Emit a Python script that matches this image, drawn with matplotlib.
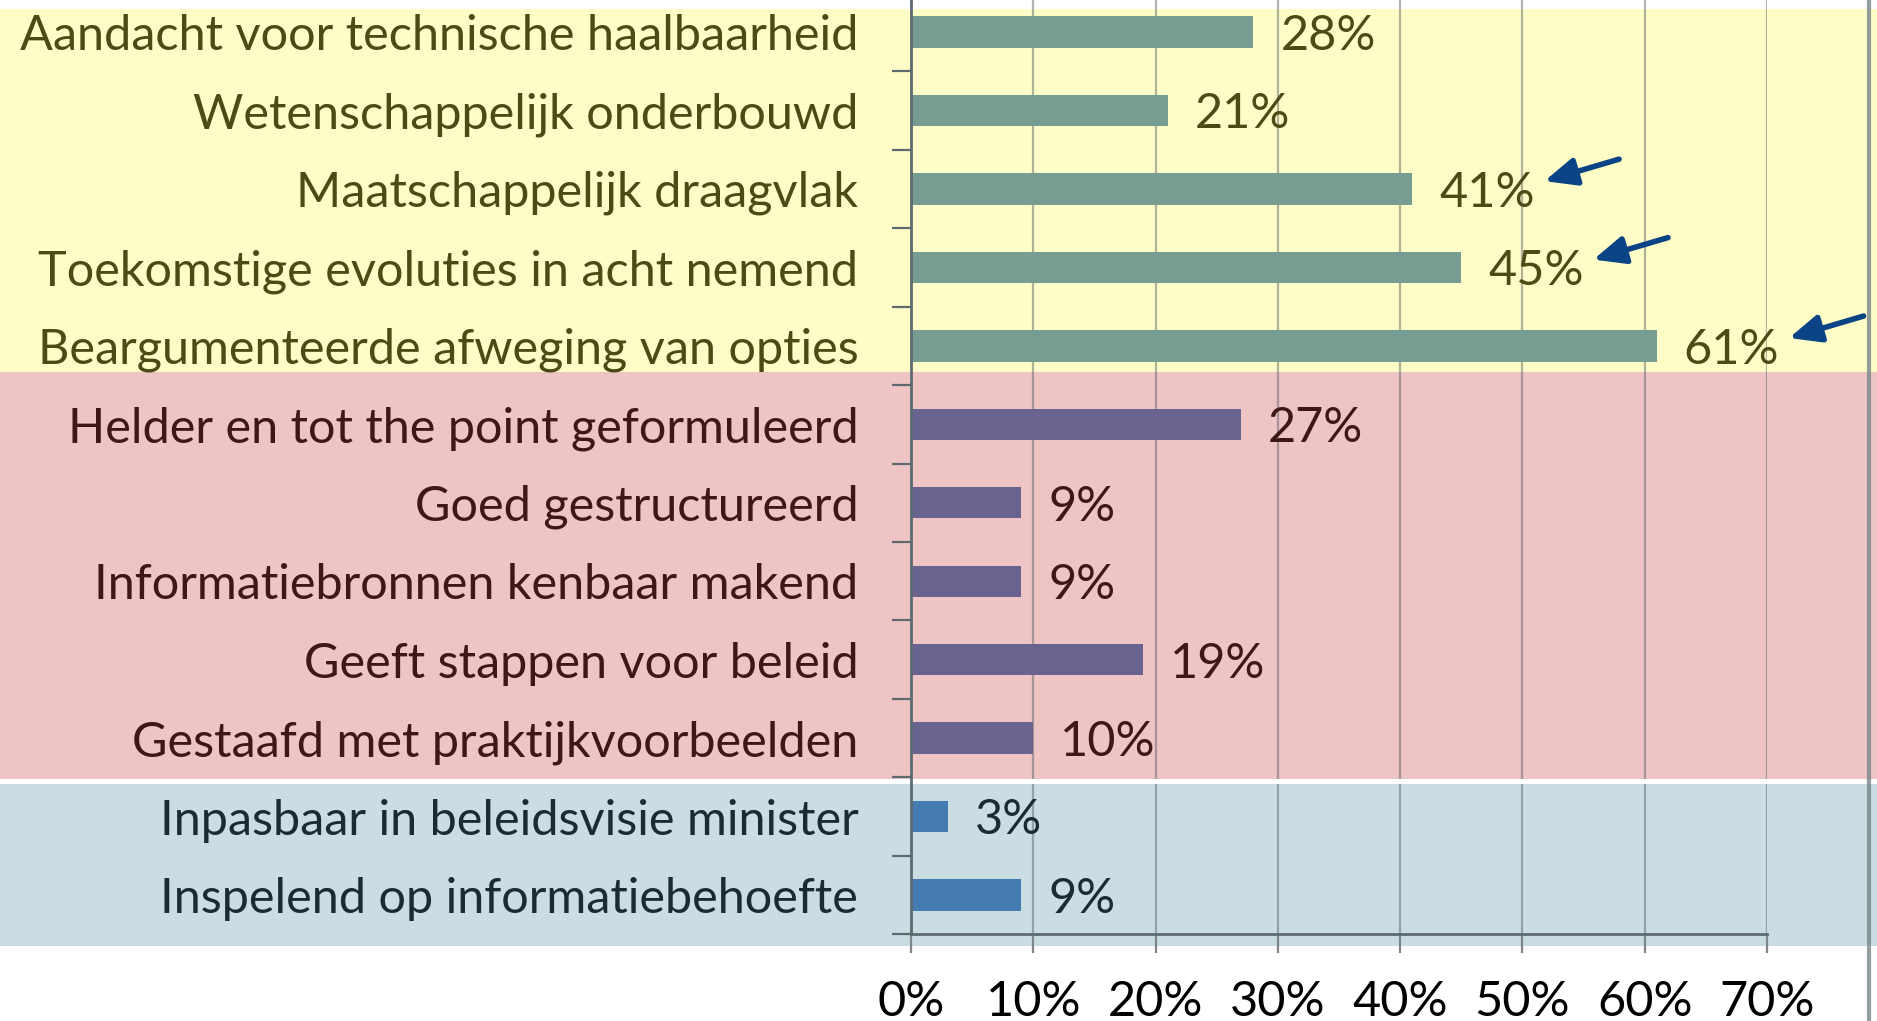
# Beoordelingscriteria: horizontale staafgrafiek met gekleurde groepen

import numpy as np
import matplotlib.pyplot as plt
from matplotlib.patches import Rectangle
from matplotlib import transforms

plt.rcParams['font.family'] = ['Lato', 'DejaVu Sans']

# -- data --
labels = [
    'Aandacht voor technische haalbaarheid',
    'Wetenschappelijk onderbouwd',
    'Maatschappelijk draagvlak',
    'Toekomstige evoluties in acht nemend',
    'Beargumenteerde afweging van opties',
    'Helder en tot the point geformuleerd',
    'Goed gestructureerd',
    'Informatiebronnen kenbaar makend',
    'Geeft stappen voor beleid',
    'Gestaafd met praktijkvoorbeelden',
    'Inpasbaar in beleidsvisie minister',
    'Inspelend op informatiebehoefte',
]
values = [28, 21, 41, 45, 61, 27, 9, 9, 19, 10, 3, 9]
groups = [0, 0, 0, 0, 0, 1, 1, 1, 1, 1, 2, 2]
highlighted = [2, 3, 4]  # rijen met een pijl
x_ticks = [0, 10, 20, 30, 40, 50, 60, 70]

bar_colors = ['#779c91', '#69638f', '#447cb1']
text_colors = ['#4b4b16', '#3e1717', '#1c2a32']
band_colors = ['#fffdc7', '#eec4c5', '#c9dde3']
# band grenzen in rij-eenheden (y)
band_spans = [(-0.293, 4.334), (4.334, 9.526), (9.586, 11.65)]

fs = 35

fig = plt.figure(figsize=(18.77, 10.21), dpi=100)
fig.patch.set_facecolor('white')
ax = fig.add_axes([0.4854, 0.0850, 0.4560, 0.9220])
ax.patch.set_alpha(0)

y = np.arange(len(labels))

# achtergrondbanden over de volle breedte
blend = transforms.blended_transform_factory(fig.transFigure, ax.transData)
for (y0, y1), c in zip(band_spans, band_colors):
    fig.add_artist(Rectangle((0, y0), 1, y1 - y0, transform=blend,
                             facecolor=c, edgecolor='none', zorder=-1))

ax.barh(y, values, height=0.40, color=[bar_colors[g] for g in groups], zorder=2)

# waarden naast de staven
for i, v in enumerate(values):
    ax.text(v + 2.2, i + 0.05, f'{v}%', va='center', ha='left',
            fontsize=fs, color=text_colors[groups[i]], zorder=3)

# pijlen naar de hoogste waarden
for i in highlighted:
    hx, hy = values[i] + 10.8, i - 0.1
    ax.annotate('', xy=(hx, hy), xytext=(hx + 6.1, hy - 0.28),
                arrowprops=dict(arrowstyle='-|>,head_length=0.5,head_width=0.22',
                                lw=4, color='#0b4387', shrinkA=0, shrinkB=0,
                                mutation_scale=38),
                annotation_clip=False, zorder=4)

# witte spleet tussen roze en blauwe band
ax.add_patch(Rectangle((0, band_spans[1][1]), 1, band_spans[2][0] - band_spans[1][1],
                       transform=blend, facecolor='white', edgecolor='none',
                       zorder=0.8, clip_on=False))

ax.set_xlim(0, 70)
ax.set_ylim(11.5, -0.5)
ax.set_xticks(x_ticks)
ax.set_xticklabels([f'{t}%' for t in x_ticks], fontsize=fs)
ax.set_yticks(y)
ax.set_yticklabels(labels, fontsize=fs)
ax.set_yticks(np.arange(-0.5, 12, 1), minor=True)
for lab, g in zip(ax.get_yticklabels(), groups):
    lab.set_color(text_colors[g])

ax.set_axisbelow(True)
ax.grid(axis='x', color='#4f5a60', alpha=0.45, lw=1.6)
ax.tick_params(axis='x', length=13.7, width=1.6, color='#7d878c', pad=19)
ax.tick_params(axis='y', which='major', length=0, pad=38)
ax.tick_params(axis='y', which='minor', length=13.7, width=1.6, color='#5d6a70')

for s in ['top', 'right']:
    ax.spines[s].set_visible(False)
for s in ['left', 'bottom']:
    ax.spines[s].set_color('#5d6a70')
    ax.spines[s].set_linewidth(2)

# rand rechts
fig.add_artist(plt.Line2D([1869 / 1877] * 2, [0, 1], transform=fig.transFigure,
                          color='#7a868a', lw=3, alpha=0.8))

fig.savefig('out.png', dpi=100)
